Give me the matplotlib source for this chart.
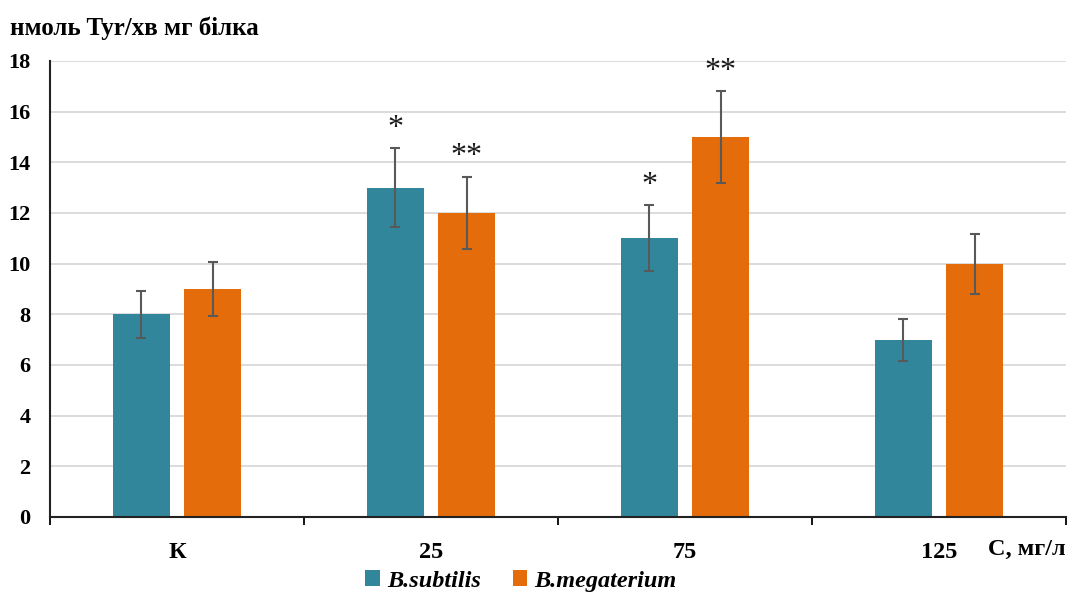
import matplotlib.pyplot as plt
import numpy as np

plt.rcParams['font.family'] = ['Liberation Serif', 'DejaVu Serif']

groups = ['К', '25', '75', '125']
subtilis = [8, 13, 11, 7]
subtilis_err = [0.93, 1.55, 1.3, 0.83]
megaterium = [9, 12, 15, 10]
megaterium_err = [1.05, 1.42, 1.8, 1.18]
subtilis_marks = ['', '*', '*', '']
megaterium_marks = ['', '**', '**', '']

teal = '#31869B'
orange = '#E46C0A'

fig = plt.figure(figsize=(10.68, 5.95), dpi=100)
ax = fig.add_axes([50 / 1068, 78 / 595, 1016 / 1068, 456 / 595])

x = np.arange(len(groups))
w = 0.224
off = 0.141
ekw = dict(ecolor='#595959', elinewidth=1.5, capsize=3.5, capthick=1.5)
b1 = ax.bar(x - off, subtilis, w, color=teal, yerr=subtilis_err, error_kw=ekw,
            label='B.subtilis', zorder=2)
b2 = ax.bar(x + off, megaterium, w, color=orange, yerr=megaterium_err, error_kw=ekw,
            label='B.megaterium', zorder=2)

# significance marks above the error bars
for xs, vals, errs, marks in [(x - off, subtilis, subtilis_err, subtilis_marks),
                              (x + off, megaterium, megaterium_err, megaterium_marks)]:
    for xi, v, e, m in zip(xs, vals, errs, marks):
        if m:
            ax.annotate(m, (xi, v + e), xytext=(0, 4), textcoords='offset points',
                        ha='center', va='bottom', fontsize=23, color='#1a1a1a')

ax.set_xlim(-0.5, 3.5)
ax.set_ylim(0, 18)
ax.set_yticks(range(0, 19, 2))
ax.yaxis.grid(True, color='#d9d9d9', linewidth=1.3, zorder=0)
ax.set_axisbelow(True)
ax.tick_params(axis='y', length=0, labelsize=16, pad=14)
for lab in ax.get_yticklabels():
    lab.set_fontweight('bold')

# group boundaries carry the tick marks, names sit in between
ax.set_xticks(np.arange(-0.5, 4, 1))
ax.set_xticklabels([])
ax.tick_params(axis='x', length=6, width=1.3, direction='out')
ax.set_xticks(x, minor=True)
ax.set_xticklabels(groups, minor=True, fontsize=17.5, fontweight='bold')
ax.tick_params(axis='x', which='minor', length=0, pad=18)

for s in ['top', 'right']:
    ax.spines[s].set_visible(False)
for s in ['left', 'bottom']:
    ax.spines[s].set_linewidth(1.5)
    ax.spines[s].set_color('#222222')

fig.text(1066 / 1068, 1 - 549 / 595, 'С, мг/л', ha='right', va='center',
         fontsize=17.5, fontweight='bold')
fig.text(10 / 1068, 1 - 28 / 595, 'нмоль Tyr/хв мг білка', ha='left', va='center',
         fontsize=18, fontweight='bold')

fig.legend(handles=[b1, b2], loc='center', bbox_to_anchor=(0.488, 1 - 581 / 595),
           ncol=2, frameon=False, handlelength=0.6, handleheight=0.6,
           handletextpad=0.3, columnspacing=1.3,
           prop=dict(family='Liberation Serif', style='italic', weight='bold', size=17.5))

fig.savefig('out.png', dpi=100)
